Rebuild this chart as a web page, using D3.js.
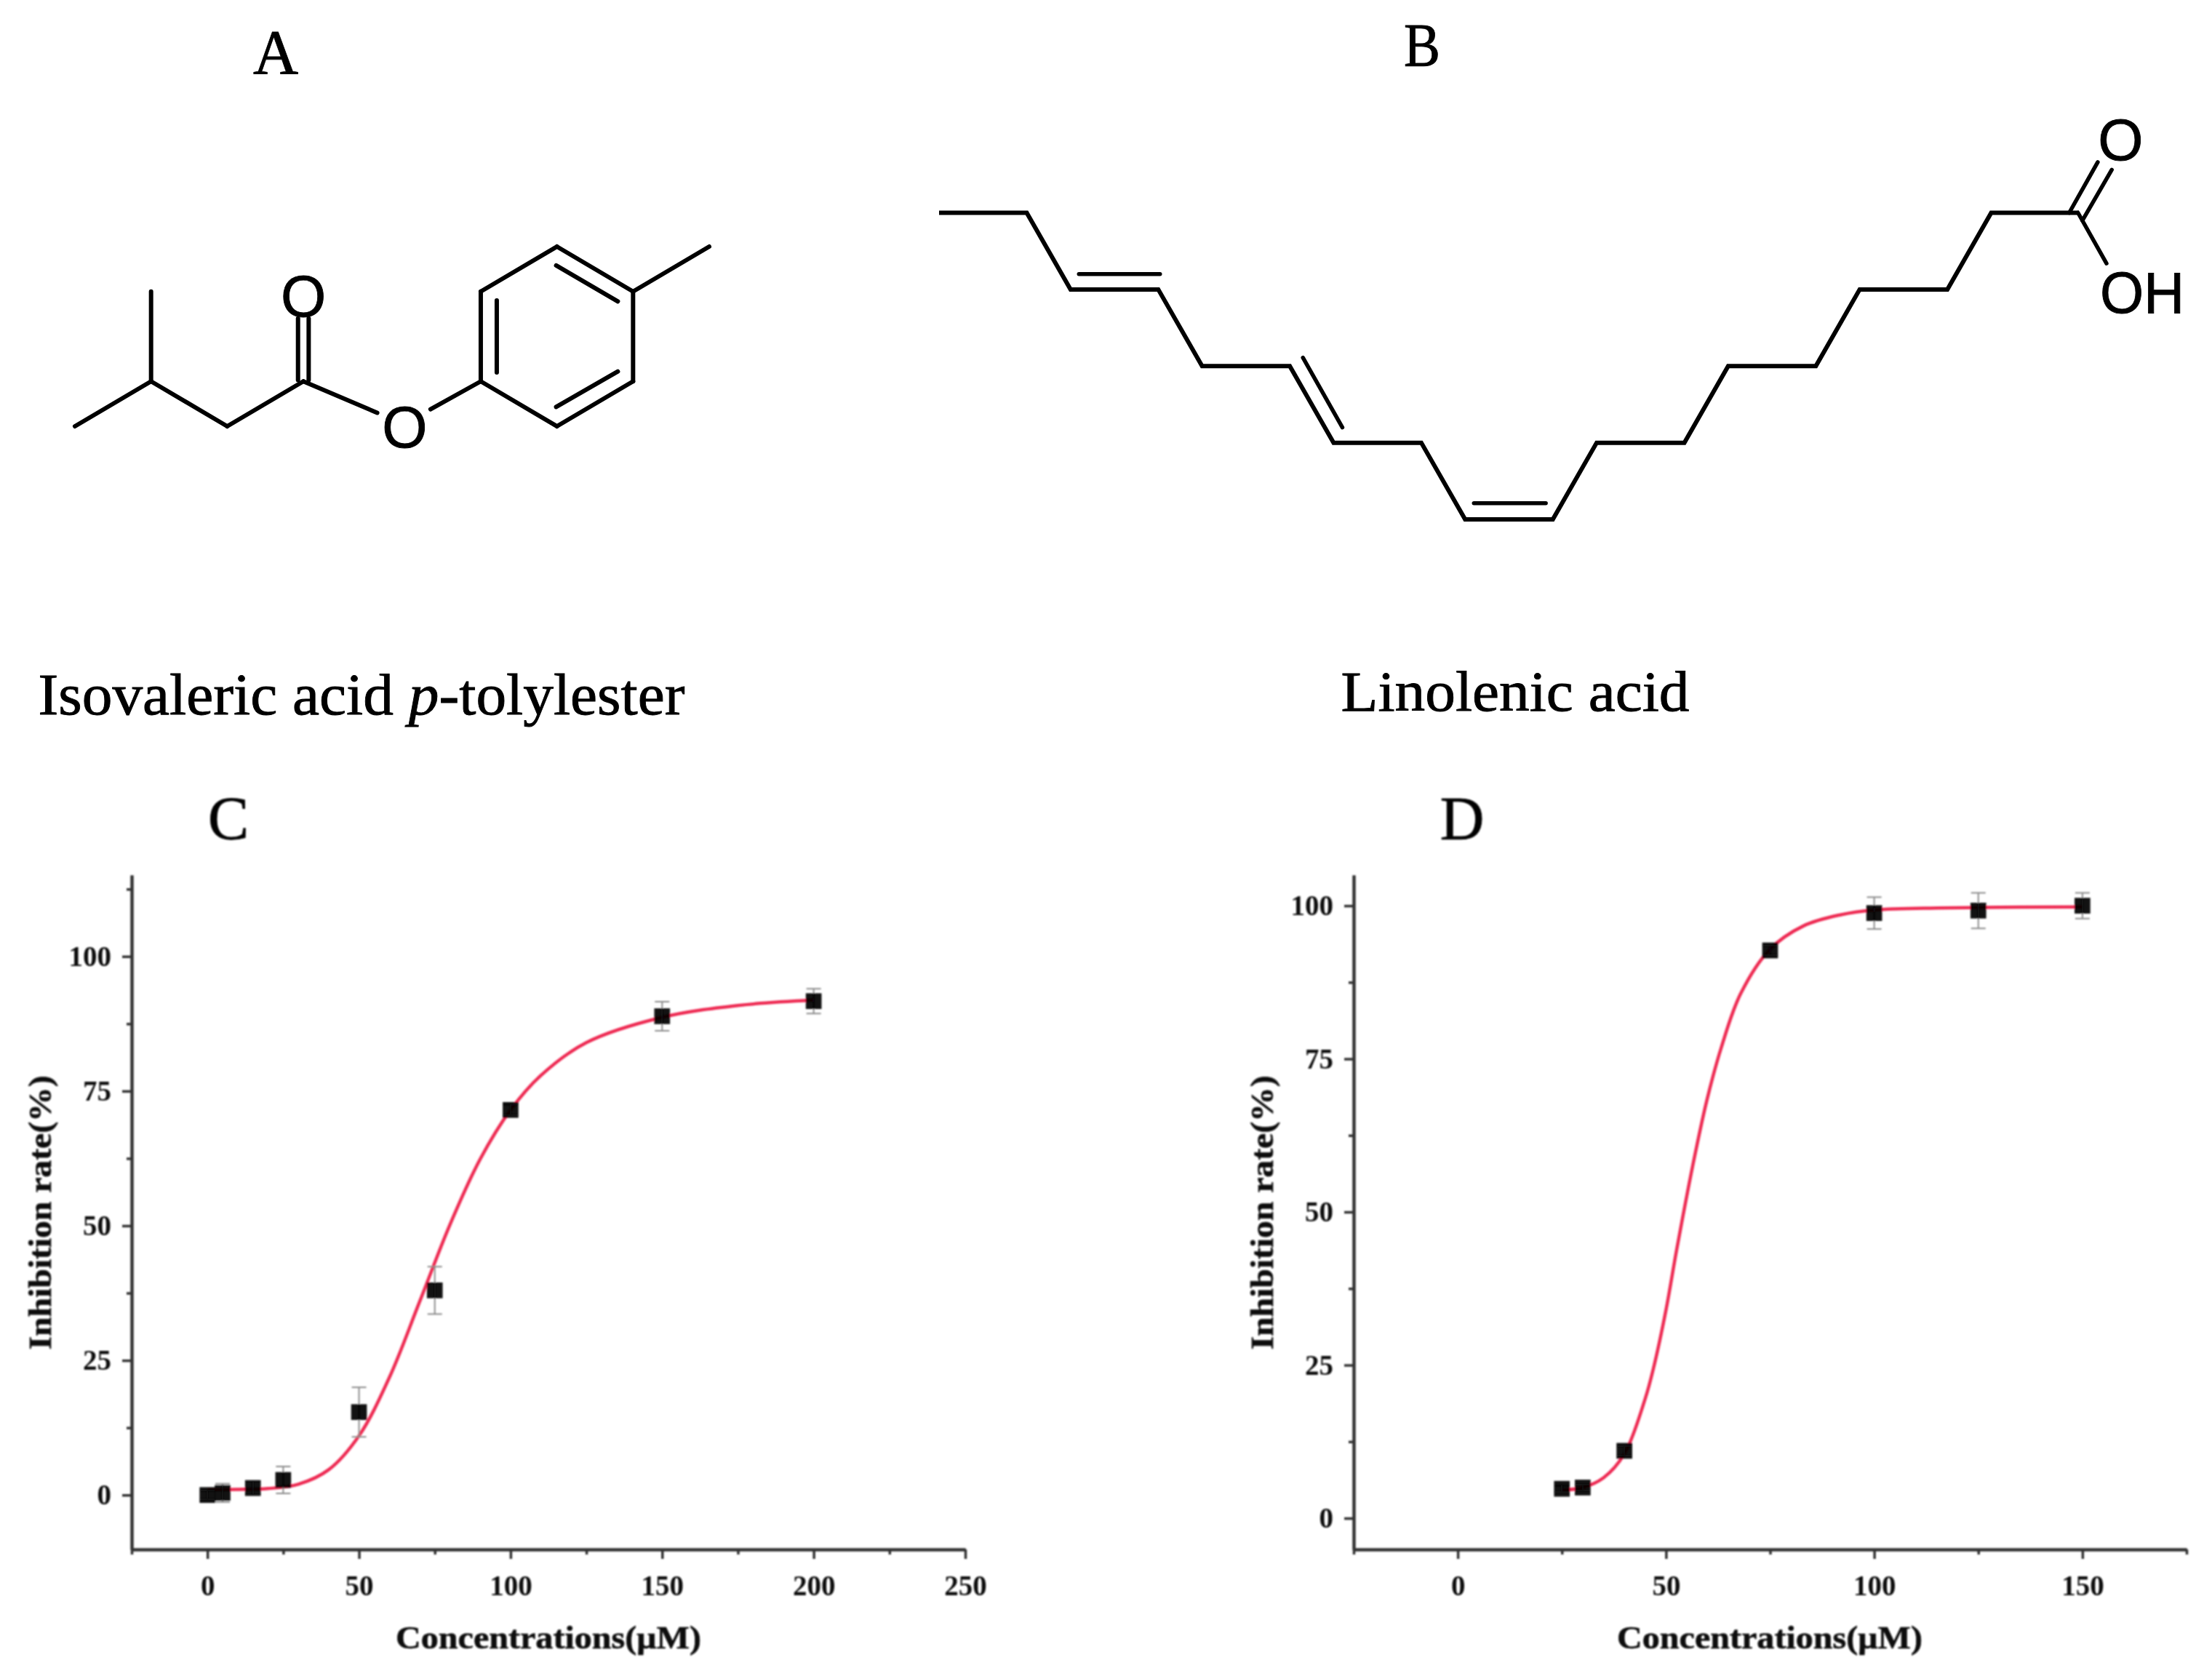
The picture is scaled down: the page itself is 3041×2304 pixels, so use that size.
<!DOCTYPE html>
<html>
<head>
<meta charset="utf-8">
<title>Inhibition curves</title>
<script src="https://cdnjs.cloudflare.com/ajax/libs/d3/7.8.5/d3.min.js"></script>
<style>
  body { margin: 0; background: #fff; }
  svg { display: block; }
</style>
</head>
<body>
<div id="chart"></div>
<script>
// Panel C values
var concC = [0, 5, 15, 25, 50, 75, 100, 150, 200];
var rateC = [0, 0.4, 1.3, 2.8, 15.4, 38, 71.5, 88.9, 91.7];
var errC = [0.8, 1.7, 1.3, 2.5, 4.6, 4.4, 1, 2.7, 2.3];
var fitXC = [0, 10, 20, 30, 40, 50, 60, 70, 80, 90, 100, 110, 125, 150, 175, 200];
var fitYC = [1, 1.05, 1.2, 2, 4.7, 11, 21.8, 35.9, 50.2, 62.4, 71.5, 77.9, 84, 88.7, 90.9, 91.9];

// Panel D values
var concD = [25, 30, 40, 75, 100, 125, 150];
var rateD = [4.8, 5, 11, 92.7, 98.8, 99.2, 100];
var errD = [0.5, 0.5, 0.8, 0.8, 2.6, 2.9, 2.1];
var fitXD = [25, 30, 35, 40, 45, 47, 50, 52.5, 56.4, 59.8, 63.3, 67.9, 75, 83, 91.8, 100, 125, 150];
var fitYD = [4.6, 5, 6.6, 10.5, 19.5, 24.5, 34, 43.6, 57.5, 68.2, 76.9, 85.6, 92.9, 96.7, 98.5, 99.3, 99.7, 99.8];

// Axis ticks
var xTicksC = [0, 50, 100, 150, 200, 250];
var xMinorC = [-25, 25, 75, 125, 175, 225];
var yTicksC = [0, 25, 50, 75, 100];
var yMinorC = [12.5, 37.5, 62.5, 87.5, 112.5];
var xTicksD = [0, 50, 100, 150];
var xMinorD = [-25, 25, 75, 125, 175];
var yTicksD = [0, 25, 50, 75, 100];
var yMinorD = [12.5, 37.5, 62.5, 87.5];

// Structure A, in bond lattice units: [col, row, col, row]
var bondsA = [
  [1, 3, 1, 1], [0, 0, 1, 1], [1, 1, 2, 0], [2, 0, 3, 1],
  [2.93, 2.4, 2.93, 1.03], [3.07, 2.4, 3.07, 1.03],
  [3, 1, 3.97, 0.3], [4.67, 0.38, 5.33, 1],
  [5.33, 1, 5.33, 3], [5.33, 3, 6.33, 4], [6.33, 4, 7.33, 3],
  [7.33, 3, 7.33, 1], [7.33, 1, 6.33, 0], [6.33, 0, 5.33, 1],
  [7.33, 3, 8.33, 4],
  [5.54, 1.2, 5.54, 2.8], [6.32, 3.58, 7.13, 2.78], [6.32, 0.43, 7.13, 1.22]
];
// Structure B, chain atoms then extra bonds
var chainCol = [0, 2, 3, 5, 6, 8, 9, 11, 12, 14, 15, 17, 18, 20, 21, 23, 24, 26];
var chainRow = [0, 0, 1, 1, 2, 2, 3, 3, 4, 4, 3, 3, 2, 2, 1, 1, 0, 0];
var bondsB = [
  [3.19, 0.8, 5.04, 0.8], [8.3, 1.89, 9.2, 2.8], [12.2, 3.79, 13.84, 3.79],
  [25.78, 0, 26.43, -0.66], [26.08, 0.1, 26.75, -0.56], [25.98, 0, 26.63, 0.66]
];

var svg = d3.select("#chart").append("svg").attr("width", 3041).attr("height", 2304);

var serif = "'Liberation Serif', 'Times New Roman', serif";
var sans = "'Liberation Sans', Arial, sans-serif";

var defs = svg.append("defs");
defs.append("filter").attr("id", "soft").append("feGaussianBlur").attr("stdDeviation", 1.3);

function label(txt, x, y, size, family, len) {
  var t = svg.append("text")
    .attr("x", x)
    .attr("y", y)
    .attr("text-anchor", "middle")
    .style("font-family", family)
    .style("font-size", size + "px")
    .style("fill", "#000")
    .style("stroke", "#000")
    .style("stroke-width", 0.9)
    .text(txt);
  if (len) t.attr("textLength", len).attr("lengthAdjust", "spacingAndGlyphs");
  return t;
}

// Draw a list of bonds through two scales
function drawBonds(list, sx, sy, w) {
  svg.append("g").selectAll("line").data(list).enter().append("line")
    .attr("x1", (d) => sx(d[0]))
    .attr("y1", (d) => sy(d[1]))
    .attr("x2", (d) => sx(d[2]))
    .attr("y2", (d) => sy(d[3]))
    .attr("stroke", "#000")
    .attr("stroke-width", w)
    .attr("stroke-linecap", "round");
}

// Structure A
var colA = d3.scaleLinear().domain([0, 8.33]).range([103, 975]);
var rowA = d3.scaleLinear().domain([0, 4]).range([586, 339]);
drawBonds(bondsA, colA, rowA, 6);
label("O", colA(3), rowA(2.92) + 29, 80, sans);
label("O", colA(4.33), rowA(0) + 29, 80, sans);

// Structure B
var colB = d3.scaleLinear().domain([0, 26]).range([1291, 2858]);
var rowB = d3.scaleLinear().domain([0, 4]).range([292.5, 714]);
svg.append("path")
  .datum(d3.zip(chainCol, chainRow))
  .attr("fill", "none")
  .attr("stroke", "#000")
  .attr("stroke-width", 6)
  .attr("stroke-linejoin", "miter")
  .attr("d", d3.line().x((d) => colB(d[0])).y((d) => rowB(d[1])));
drawBonds(bondsB, colB, rowB, 5.5);
label("O", colB(26.95), rowB(-0.95) + 28, 80, sans);
label("OH", 2945, 430, 80, sans, 116);

// Panel letters and compound names
label("A", 379, 101, 86, serif);
label("B", 1955, 91, 84, serif, 50);
label("C", 314, 1154, 84, serif).attr("filter", "url(#soft)");
label("D", 2010, 1154, 84, serif).attr("filter", "url(#soft)");

var nameA = label("Isovaleric acid ", 497, 982, 80, serif, 889);
nameA.append("tspan").style("font-style", "italic").text("p");
nameA.append("tspan").text("-tolylester");
label("Linolenic acid", 2083, 977, 78, serif, 479);

function drawPanel(opt) {
  var g = svg.append("g").attr("filter", "url(#soft)");
  var x = d3.scaleLinear().domain(opt.xDomain).range(opt.xRange);
  var y = d3.scaleLinear().domain(opt.yDomain).range([2130, 1203]);
  var bottom = opt.yDomain[0];
  var left = opt.xDomain[0];

  var xAxisG = g.append("g").attr("transform", "translate(0," + y(bottom) + ")");
  var yAxisG = g.append("g").attr("transform", "translate(" + x(left) + ",0)");

  xAxisG.call(d3.axisBottom(x).tickValues(opt.xTicks).tickSize(13).tickSizeOuter(0).tickPadding(22).tickFormat(d3.format("d")));
  xAxisG.append("g").call(d3.axisBottom(x).tickValues(opt.xMinor).tickSize(7).tickSizeOuter(0).tickFormat(""));
  yAxisG.call(d3.axisLeft(y).tickValues(opt.yTicks).tickSize(13).tickSizeOuter(0).tickPadding(15).tickFormat(d3.format("d")));
  yAxisG.append("g").call(d3.axisLeft(y).tickValues(opt.yMinor).tickSize(7).tickSizeOuter(0).tickFormat(""));

  g.selectAll(".domain").attr("stroke", "#333").attr("stroke-width", 4);
  g.selectAll(".tick line").attr("stroke", "#333").attr("stroke-width", 3.5);
  g.selectAll(".tick text")
    .attr("fill", "#111")
    .style("font-family", serif)
    .style("font-weight", "bold")
    .style("font-size", "39px");

  // Fitted curve
  g.append("path")
    .datum(d3.zip(opt.fitX, opt.fitY))
    .attr("fill", "none")
    .attr("stroke", "#ee2a52")
    .attr("stroke-width", 4.5)
    .attr("d", d3.line().curve(d3.curveCatmullRom.alpha(0.5)).x((d) => x(d[0])).y((d) => y(d[1])));

  // Error bars
  var pts = opt.conc.map((c, i) => ({ c: c, v: opt.rate[i], e: opt.err[i] }));
  var bars = g.append("g").attr("stroke", "#8c8c8c").attr("stroke-width", 2);
  bars.selectAll(".stem").data(pts).enter().append("line")
    .attr("class", "stem")
    .attr("x1", (d) => x(d.c)).attr("x2", (d) => x(d.c))
    .attr("y1", (d) => y(d.v - d.e)).attr("y2", (d) => y(d.v + d.e));
  bars.selectAll(".capTop").data(pts).enter().append("line")
    .attr("class", "capTop")
    .attr("x1", (d) => x(d.c) - 10).attr("x2", (d) => x(d.c) + 10)
    .attr("y1", (d) => y(d.v + d.e)).attr("y2", (d) => y(d.v + d.e));
  bars.selectAll(".capBottom").data(pts).enter().append("line")
    .attr("class", "capBottom")
    .attr("x1", (d) => x(d.c) - 10).attr("x2", (d) => x(d.c) + 10)
    .attr("y1", (d) => y(d.v - d.e)).attr("y2", (d) => y(d.v - d.e));

  // Square markers
  g.append("g").selectAll("path").data(pts).enter().append("path")
    .attr("transform", (d) => "translate(" + x(d.c) + "," + y(d.v) + ")")
    .attr("d", d3.symbol().type(d3.symbolSquare).size(470))
    .attr("fill", "#000")
    .attr("fill-opacity", 0.93);

  // Axis titles
  g.append("text")
    .attr("x", opt.xTitle)
    .attr("y", 2266)
    .attr("text-anchor", "middle")
    .attr("textLength", 420)
    .attr("lengthAdjust", "spacingAndGlyphs")
    .style("font-family", serif)
    .style("font-weight", "bold")
    .style("font-size", "44px")
    .style("fill", "#111")
    .style("stroke", "#111")
    .style("stroke-width", 0.6)
    .text("Concentrations(μM)");
  g.append("text")
    .attr("transform", "translate(" + opt.yTitle + ",1667) rotate(-90)")
    .attr("text-anchor", "middle")
    .attr("textLength", 377)
    .attr("lengthAdjust", "spacingAndGlyphs")
    .style("font-family", serif)
    .style("font-weight", "bold")
    .style("font-size", "44px")
    .style("fill", "#111")
    .style("stroke", "#111")
    .style("stroke-width", 0.6)
    .text("Inhibition rate(%)");
}

drawPanel({
  xDomain: [-25, 250], xRange: [181, 1327], yDomain: [-10.1, 115.1],
  xTicks: xTicksC, xMinor: xMinorC, yTicks: yTicksC, yMinor: yMinorC,
  conc: concC, rate: rateC, err: errC, fitX: fitXC, fitY: fitYC,
  xTitle: 754, yTitle: 70
});
drawPanel({
  xDomain: [-25, 175], xRange: [1861, 3006], yDomain: [-5.1, 105],
  xTicks: xTicksD, xMinor: xMinorD, yTicks: yTicksD, yMinor: yMinorD,
  conc: concD, rate: rateD, err: errD, fitX: fitXD, fitY: fitYD,
  xTitle: 2433, yTitle: 1750
});
</script>
</body>
</html>
